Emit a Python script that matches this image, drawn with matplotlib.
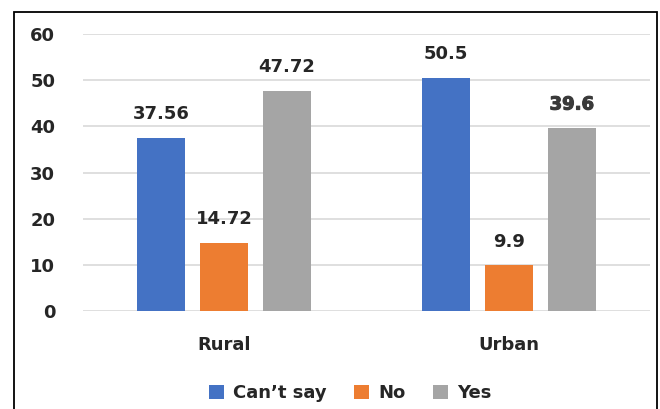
import matplotlib
matplotlib.use("Agg")
import matplotlib.pyplot as plt
import matplotlib.patheffects as pe
from matplotlib.patches import Rectangle
import numpy as np

categories = ["Rural", "Urban"]
series_names = ["Can’t say", "No", "Yes"]
cant_say = [37.56, 50.5]
no = [14.72, 9.9]
yes = [47.72, 39.6]
yticks = [0, 10, 20, 30, 40, 50, 60]

colors = ["#4472C4", "#ED7D31", "#A5A5A5"]
values = [cant_say, no, yes]

W, H = 660, 409
FS = 13
fig = plt.figure(figsize=(W / 100, H / 100), dpi=100)
ax = fig.add_axes([83 / W, 1 - 311 / H, (650 - 83) / W, (311 - 34) / H])

x = np.arange(len(categories))
step = 0.221
width = 0.169
for i, (name, vals, c) in enumerate(zip(series_names, values, colors)):
    pos = x + (i - 1) * step
    ax.bar(pos, vals, width=width, color=c, label=name, zorder=3)
    for px, v in zip(pos, vals):
        t = ax.annotate(f"{v:g}", (px, v), xytext=(0, 17), textcoords="offset points",
                        ha="center", va="center", fontsize=FS, fontweight="bold",
                        color="#262626")
        if name == "Yes" and v == 39.6:
            t.set_color("#3a3a3a")
            t.set_path_effects([pe.Stroke(linewidth=0.8, foreground="#3a3a3a"), pe.Normal()])

ax.set_ylim(0, 60)
ax.set_xlim(-0.496, 1.496)
ax.set_yticks(yticks)
ax.set_xticks(x)
ax.set_xticklabels(categories)
ax.yaxis.grid(True, color="#D9D9D9", linewidth=1.2, zorder=0)
for s in ax.spines.values():
    s.set_visible(False)
ax.tick_params(axis="both", length=0, labelsize=FS, labelcolor="#262626")
ax.tick_params(axis="y", pad=20)
ax.tick_params(axis="x", pad=18)
for lab in ax.get_xticklabels() + ax.get_yticklabels():
    lab.set_fontweight("bold")

leg = fig.legend(loc="center", bbox_to_anchor=(350 / W, 1 - 393 / H), ncol=3,
                 frameon=False, fontsize=FS, handlelength=0.85, handleheight=0.85,
                 columnspacing=1.5, handletextpad=0.5)
for t in leg.get_texts():
    t.set_fontweight("bold")
    t.set_color("#262626")

fig.patches.append(Rectangle((14 / W, -0.05), (657 - 14) / W, 1.05 - 12 / H,
                             transform=fig.transFigure, fill=False,
                             edgecolor="black", linewidth=1.3))

fig.savefig("out.png", dpi=100)
